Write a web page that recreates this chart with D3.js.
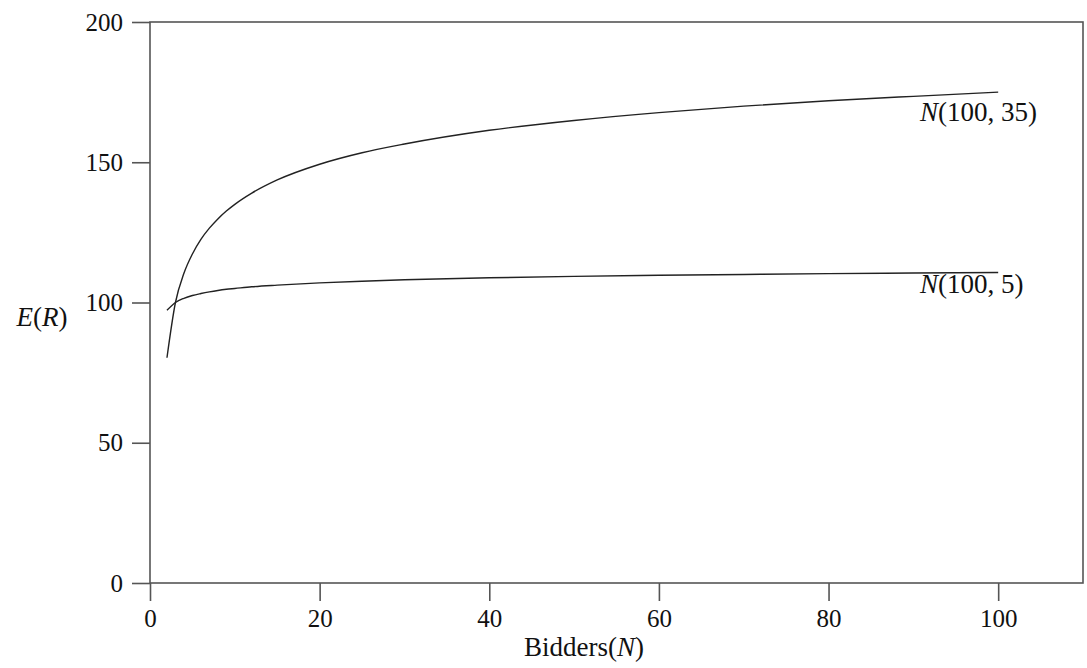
<!doctype html>
<html lang="en">
<head>
    <meta charset="UTF-8">
    <title>E(R) vs Bidders</title>
    <style>
        body { margin: 0; background: #fff; }
    </style>
</head>
<body>
    <svg width="1087" height="668"></svg>
    <script src="https://cdn.jsdelivr.net/npm/d3@7/dist/d3.min.js"></script>
    <script>
        // bidders N and expected revenue
        const bidders = [2, 3, 4, 5, 6, 7, 8, 9, 10, 12, 15, 20, 25, 30, 40, 50, 60, 70, 80, 90, 100]
        const sigma35 = [80.3, 100, 110.4, 117.3, 122.5, 126.5, 129.8, 132.6, 135.0, 139.0, 143.7, 149.3,
            153.4, 156.5, 161.4, 164.9, 167.7, 170.0, 171.9, 173.5, 175.0]
        const sigma5 = [97.2, 100, 101.5, 102.5, 103.2, 103.8, 104.3, 104.7, 105.0, 105.6, 106.2, 107.0,
            107.6, 108.1, 108.8, 109.3, 109.7, 110.0, 110.3, 110.5, 110.7]
        const xTicks = [0, 20, 40, 60, 80, 100]
        const yTicks = [0, 50, 100, 150, 200]

        const serif = '"Liberation Serif", "Times New Roman", serif'
        const svg = d3.select('svg')
        const x = d3.scaleLinear().domain([0, 110]).range([150, 1083])
        const y = d3.scaleLinear().domain([0, 200]).range([583, 22])

        const axisColor = '#555'

        // box
        svg.append('rect')
            .attr('x', x(0)).attr('y', y(200))
            .attr('width', x(110) - x(0)).attr('height', y(0) - y(200))
            .attr('fill', 'none').attr('stroke', axisColor).attr('stroke-width', 1.6)

        const xAxis = svg.append('g')
            .attr('transform', `translate(0,${y(0)})`)
            .call(d3.axisBottom(x).tickValues(xTicks).tickSize(18).tickPadding(8))
        const yAxis = svg.append('g')
            .attr('transform', `translate(${x(0)},0)`)
            .call(d3.axisLeft(y).tickValues(yTicks).tickSize(18).tickPadding(9))

        for (const g of [xAxis, yAxis]) {
            g.select('.domain').remove()
            g.selectAll('line').attr('stroke', axisColor).attr('stroke-width', 1.6)
            g.selectAll('text')
                .style('font-family', serif)
                .style('font-size', '25px')
                .attr('fill', '#111')
        }

        const line = d3.line()
            .x((d, i) => x(bidders[i]))
            .y(d => y(d))
            .curve(d3.curveMonotoneX)

        svg.selectAll('path.curve')
            .data([sigma35, sigma5])
            .enter()
            .append('path')
            .attr('class', 'curve')
            .attr('d', line)
            .attr('fill', 'none')
            .attr('stroke', '#222')
            .attr('stroke-width', 1.4)

        function label(x0, y0, parts, anchor) {
            const t = svg.append('text')
                .attr('x', x0)
                .attr('y', y0)
                .attr('text-anchor', anchor)
                .attr('fill', '#111')
                .style('font-family', serif)
                .style('font-size', '27px')
            parts.forEach(([s, it]) => {
                t.append('tspan').style('font-style', it ? 'italic' : 'normal').text(s)
            })
            return t
        }

        // curve labels, italic N with upright numbers
        label(920, y(sigma35[sigma35.length - 1]) + 29, [['N', true], ['(100, 35)', false]], 'start')
        label(920, y(sigma5[sigma5.length - 1]) + 21, [['N', true], ['(100, 5)', false]], 'start')

        label(584, 656, [['Bidders(', false], ['N', true], [')', false]], 'middle')
        label(42, 326, [['E', true], ['(', false], ['R', true], [')', false]], 'middle')
    </script>
</body>
</html>
